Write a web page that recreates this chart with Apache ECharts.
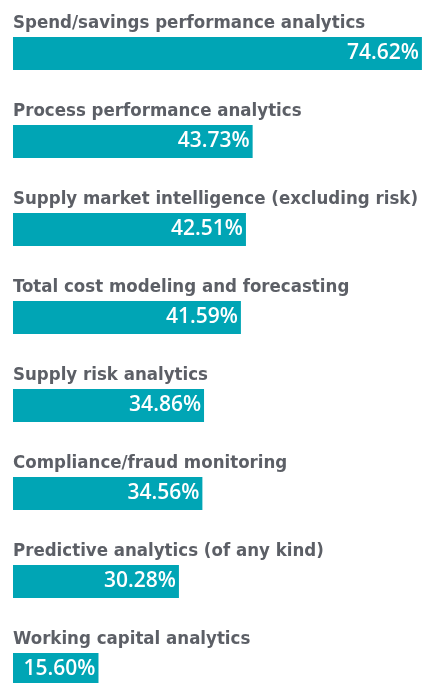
<!DOCTYPE html>
<html>
<head>
<meta charset="utf-8">
<script src="https://cdn.jsdelivr.net/npm/echarts@6/dist/echarts.min.js"></script>
<style>
  html, body { margin: 0; padding: 0; background: #fff; }
  #chart { width: 424px; height: 683px; }
</style>
</head>
<body>
<div id="chart"></div>
<script>
const categories = [
  'Spend/savings performance analytics',
  'Process performance analytics',
  'Supply market intelligence (excluding risk)',
  'Total cost modeling and forecasting',
  'Supply risk analytics',
  'Compliance/fraud monitoring',
  'Predictive analytics (of any kind)',
  'Working capital analytics'
];
const values = [74.62, 43.73, 42.51, 41.59, 34.86, 34.56, 30.28, 15.60];

const chart = echarts.init(document.getElementById('chart'));

chart.setOption({
  animation: false,
  grid: { left: 13, top: 9.5, right: 0, bottom: -30.5, containLabel: false, outerBoundsMode: 'none' },
  xAxis: {
    type: 'value',
    min: 0,
    max: 75,
    show: false
  },
  yAxis: {
    type: 'category',
    data: categories,
    inverse: true,
    axisLine: { show: false },
    axisTick: { show: false },
    axisLabel: {
      inside: true,
      margin: 0,
      align: 'left',
      verticalAlign: 'bottom',
      padding: [0, 0, 21, 0],
      color: '#5c5f66',
      fontFamily: '"DejaVu Sans Condensed", "Open Sans", sans-serif',
      fontWeight: 'bold',
      fontSize: 18.5
    },
    z: 10
  },
  series: [
    {
      type: 'bar',
      data: values,
      barWidth: 33,
      itemStyle: { color: '#00a5b5' },
      label: {
        show: true,
        position: 'insideRight',
        distance: 3,
        color: '#fff',
        fontFamily: '"Open Sans", sans-serif',
        fontWeight: 600,
        fontSize: 21,
        formatter: p => p.value.toFixed(2) + '%'
      }
    }
  ]
});
</script>
</body>
</html>
